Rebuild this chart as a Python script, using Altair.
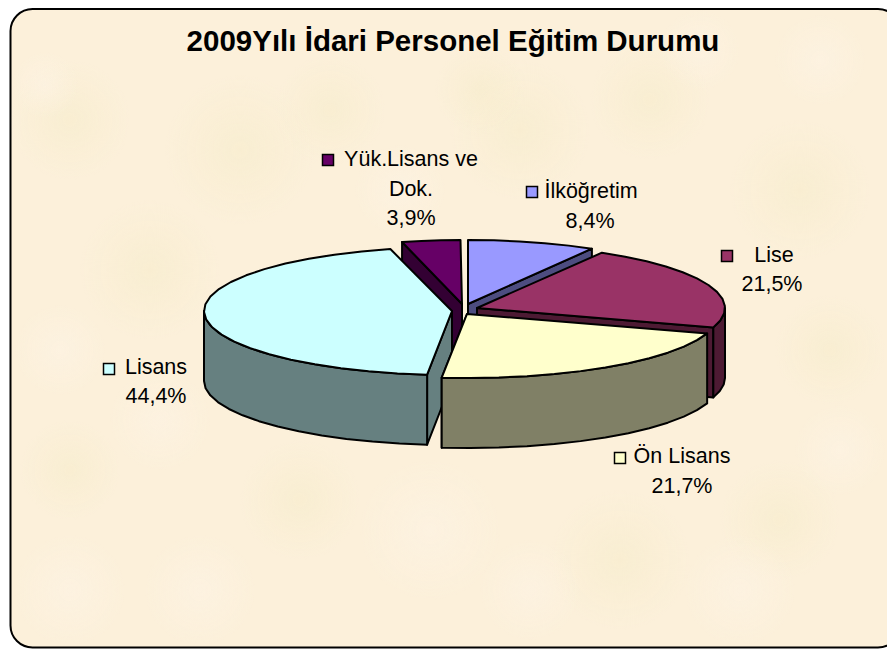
import math
import altair as alt

# ---- values
CATEGORIES = ["Yük.Lisans ve Dok.", "İlköğretim", "Lise", "Ön Lisans", "Lisans"]
SHARES = [3.9, 8.4, 21.5, 21.7, 44.4]
TITLE = "2009Yılı İdari Personel Eğitim Durumu"
LABEL_LINES = [
    ["Yük.Lisans ve", "Dok.", "3,9%"],
    ["İlköğretim", "8,4%"],
    ["Lise", "21,5%"],
    ["Ön Lisans", "21,7%"],
    ["Lisans", "44,4%"],
]

# ---- styling and layout, in page pixels
TOP = ["#660066", "#9999FF", "#993366", "#FFFFCC", "#CCFFFF"]
SIDE = ["#330033", "#4D4D80", "#4D1A33", "#808066", "#668080"]
APEX = [(462, 304), (468, 304), (477, 308), (467, 314), (452, 311)]
RADIUS_X = [241, 246, 248, 252, 248]
RY, DEPTH = 64, 70
PAINT_ORDER = [0, 1, 2, 4, 3]
WALL_AT_START = {0, 4}
KEY_POS = [(328, 160), (532, 192), (727, 256), (620, 458), (109, 369)]
LINE_POS = [
    [(411, 160), (411, 190), (411, 219)],
    [(591, 192), (590, 222)],
    [(774, 256), (772, 285)],
    [(682, 457), (682, 487)],
    [(156, 368), (156, 397)],
]
# soft mottling of the parchment background: (centre x, centre y, half-size)
WARM_PATCHES = [
    (70, 120, 60), (240, 150, 75), (150, 270, 70), (330, 110, 55), (520, 130, 70),
    (650, 100, 60), (800, 190, 70), (830, 350, 55), (620, 560, 70), (300, 500, 60),
    (70, 470, 50), (780, 520, 60), (480, 90, 45),
]
LIGHT_PATCHES = [
    (45, 85, 33), (70, 590, 55), (200, 590, 55), (430, 530, 70), (530, 590, 50),
    (740, 590, 55), (840, 450, 45), (60, 350, 45), (700, 50, 40), (820, 60, 45),
    (160, 420, 50), (400, 190, 45),
]
OX, OY = 8, 8


def rim(apex, rx, t0, t1):
    """Rim of the slice between two clockwise angles (degrees from 12 o'clock)."""
    n = max(2, int(abs(t1 - t0) / 7) + 2)
    out = []
    for k in range(n):
        t = math.radians(t0 + (t1 - t0) * k / (n - 1))
        out.append((apex[0] + rx * math.sin(t), apex[1] - RY * math.cos(t)))
    return out


def down(points):
    return [(x, y + DEPTH) for x, y in points]


def feature(points, fill, name):
    ring = [list(p) for p in points] + [list(points[0])]
    return {
        "type": "Feature",
        "properties": {"fill": fill, "name": name},
        "geometry": {"type": "Polygon", "coordinates": [ring]},
    }


# slices run clockwise from 12 o'clock, İlköğretim first and Yük. Lisans last
order = [1, 2, 3, 4, 0]
angles = {}
acc = 0.0
for i in order:
    angles[i] = (acc, acc + SHARES[i] * 3.6)
    acc += SHARES[i] * 3.6

features = []
for i in PAINT_ORDER:
    t0, t1 = angles[i]
    a = APEX[i]
    rx = RADIUS_X[i]
    name = CATEGORIES[i]
    tw = t0 if i in WALL_AT_START else t1
    wall = rim(a, rx, tw, tw)[0]
    features.append(feature([a, wall, (wall[0], wall[1] + DEPTH), (a[0], a[1] + DEPTH)], SIDE[i], name))
    lo, hi = max(t0, 90), min(t1, 270)
    if hi > lo:
        edge = rim(a, rx, lo, hi)
        features.append(feature(edge + down(edge)[::-1], SIDE[i], name))
    features.append(feature([a] + rim(a, rx, t0, t1), TOP[i], name))

pie = (
    alt.Chart(
        alt.InlineData(
            values={"type": "FeatureCollection", "features": features},
            format=alt.DataFormat(type="json", property="features"),
        )
    )
    .mark_geoshape(stroke="#000000", strokeWidth=2, strokeJoin="round")
    .encode(fill=alt.Fill("properties.fill:N", scale=None, legend=None))
    .project(type="identity", scale=1, translate=[-OX, -OY])
)

frame = alt.Chart(alt.Data(values=[{"k": 1}])).mark_rect(
    fill="#FCF0DA", stroke="#000000", strokeWidth=2, cornerRadius=22
).encode(
    x=alt.value(10.5 - OX), x2=alt.value(900 - OX),
    y=alt.value(1), y2=alt.value(647.5 - OY),
)


def patches(rows, colour):
    fade = alt.RadialGradient(
        gradient="radial", r1=0, r2=0.5,
        stops=[
            alt.GradientStop(offset=0, color=colour),
            alt.GradientStop(offset=1, color=colour[:7] + "00"),
        ],
    )
    table = [
        {"x0": x - s - OX, "x1": x + s - OX, "y0": y - s - OY, "y1": y + s - OY}
        for x, y, s in rows
    ]
    return alt.Chart(alt.Data(values=table)).mark_rect(fill=fade).encode(
        x=alt.X("x0:Q", scale=None), x2="x1:Q",
        y=alt.Y("y0:Q", scale=None), y2="y1:Q",
    )


layers = [frame, patches(WARM_PATCHES, "#F6ECCB90"), patches(LIGHT_PATCHES, "#FDF3E4A0"), pie]

layers.append(
    alt.Chart(alt.Data(values=[{"t": TITLE}])).mark_text(
        font="Liberation Sans", fontSize=29.5, fontWeight="bold", color="#000000", align="center", baseline="middle"
    ).encode(text="t:N", x=alt.value(453 - OX), y=alt.value(42 - OY))
)

for i in range(5):
    kx, ky = KEY_POS[i]
    layers.append(
        alt.Chart(alt.Data(values=[{"k": CATEGORIES[i]}])).mark_rect(
            fill=TOP[i], stroke="#000000", strokeWidth=1.5
        ).encode(
            x=alt.value(kx - 5.5 - OX), x2=alt.value(kx + 5.5 - OX),
            y=alt.value(ky - 5.5 - OY), y2=alt.value(ky + 5.5 - OY),
        )
    )
    for line, (lx, ly) in zip(LABEL_LINES[i], LINE_POS[i]):
        layers.append(
            alt.Chart(alt.Data(values=[{"t": line}])).mark_text(
                font="Liberation Sans", fontSize=21.5, color="#000000", align="center", baseline="middle"
            ).encode(text="t:N", x=alt.value(lx - OX), y=alt.value(ly - OY))
        )

chart = (
    alt.layer(*layers)
    .properties(
        width=879, height=642, padding=0,
        autosize=alt.AutoSizeParams(type="none"),
        background="transparent",
    )
    .configure_view(stroke=None)
)

chart.save("out.html", embed_options={"renderer": "svg", "actions": False})
